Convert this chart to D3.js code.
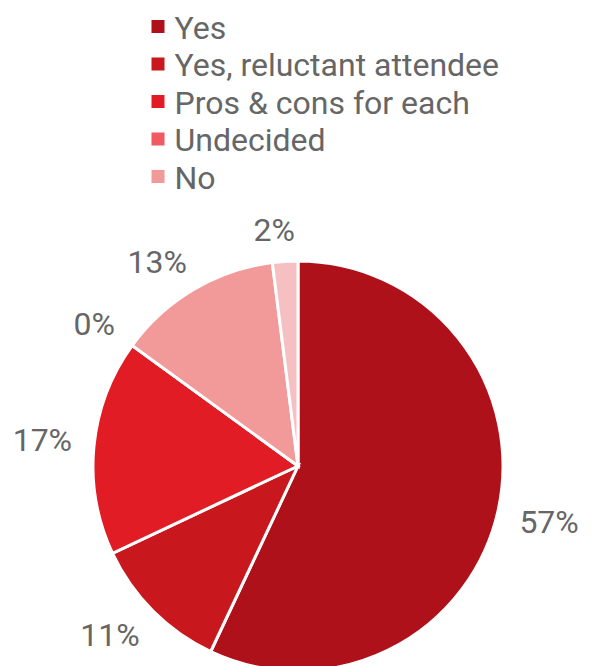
<!DOCTYPE html>
<html>
<head>
<meta charset="utf-8">
<script src="https://cdn.jsdelivr.net/npm/d3@7"></script>
<style>
  html, body { margin: 0; padding: 0; background: #fff; }
  svg { display: block; }
</style>
</head>
<body>
<svg id="chart" width="594" height="666"></svg>
<script>
// Survey answers, in pie order (clockwise from 12 o'clock)
const categories = ["Yes", "Yes, reluctant attendee", "Pros & cons for each", "Undecided", "No", "No answer"];
const shares = [57, 11, 17, 0, 13, 2];
const colors = ["#af111b", "#c9171e", "#e21c24", "#ef5b60", "#f29999", "#f6bfc1"];
// Entries listed in the legend
const legendItems = ["Yes", "Yes, reluctant attendee", "Pros & cons for each", "Undecided", "No"];

const width = 594, height = 666;
const cx = 298, cy = 466, radius = 205;
const font = "Roboto, 'Noto Sans', sans-serif";
const textColor = "#666666";

const svg = d3.select("#chart");

const color = d3.scaleOrdinal().domain(categories).range(colors);

const pie = d3.pie().sort(null).value(d => d.value);
const arcs = pie(categories.map((c, i) => ({ name: c, value: shares[i] })));
const arc = d3.arc().innerRadius(0).outerRadius(radius);

const g = svg.append("g").attr("transform", `translate(${cx},${cy})`);

g.selectAll("path.slice")
  .data(arcs)
  .join("path")
  .attr("class", "slice")
  .attr("d", arc)
  .attr("fill", d => color(d.data.name))
  .attr("stroke", "#fff")
  .attr("stroke-width", 3)
  .attr("stroke-linejoin", "miter");

// Percentage labels outside each slice, pushed clear of the rim
const labelFont = 32;
const labels = g.selectAll("text.pct")
  .data(arcs)
  .join("text")
  .attr("class", "pct")
  .attr("font-family", font)
  .attr("font-size", labelFont)
  .attr("fill", textColor)
  .attr("text-anchor", "middle")
  .attr("dominant-baseline", "central")
  .text(d => d.data.value + "%");

labels.each(function(d) {
  const a = (d.startAngle + d.endAngle) / 2;
  const s = Math.sin(a), c = -Math.cos(a);
  const tw = this.getComputedTextLength();
  const hw = tw / 2 + 10, hh = 19;
  const base = radius + 12;
  const sx = Math.sign(s) * Math.pow(Math.abs(s), 0.4);
  const sy = Math.sign(c) * Math.pow(Math.abs(c), 0.5);
  const x = base * s + hw * sx;
  const y = base * c + hh * sy;
  d3.select(this).attr("x", x).attr("y", y);
});

// Legend
const legend = svg.append("g").attr("transform", "translate(151.5,0)");
const rowY = d3.scalePoint().domain(legendItems).range([26.5, 176.5]);
const rows = legend.selectAll("g.row")
  .data(legendItems)
  .join("g")
  .attr("class", "row")
  .attr("transform", d => `translate(0,${rowY(d)})`);

rows.append("rect")
  .attr("x", 0).attr("y", -6.5)
  .attr("width", 13).attr("height", 13)
  .attr("fill", d => color(d));

rows.append("text")
  .attr("x", 23)
  .attr("y", 1)
  .attr("dominant-baseline", "central")
  .attr("font-family", font)
  .attr("font-size", 32)
  .attr("fill", textColor)
  .text(d => d);
</script>
</body>
</html>
